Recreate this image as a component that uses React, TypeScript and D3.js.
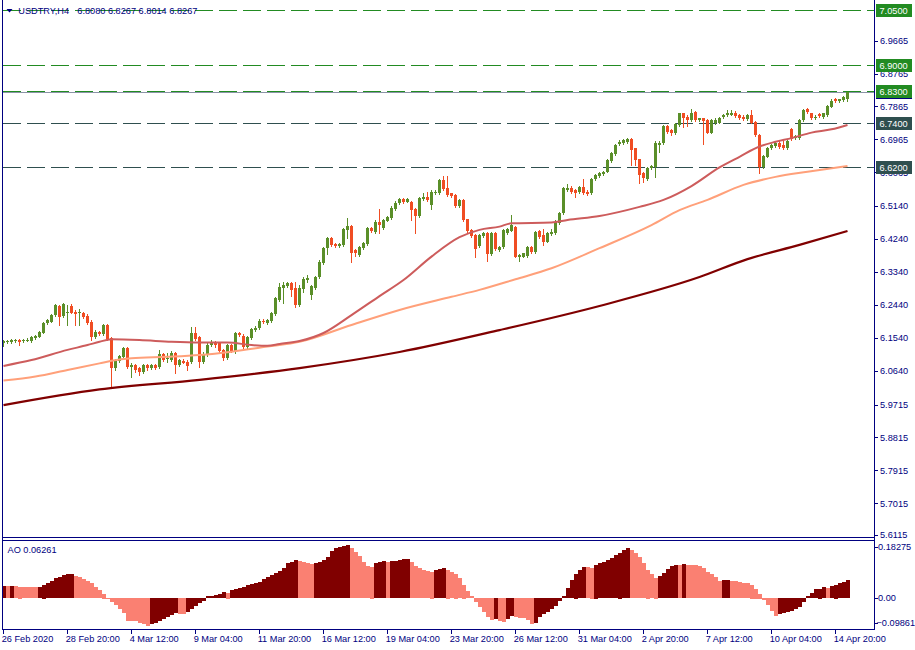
import React, { useRef, useEffect } from 'react';
import * as d3 from 'd3';

// H4 candles, [open, high, low, close]
const ohlc: [number, number, number, number][] = [
  [6.140, 6.148, 6.132, 6.145], [6.143, 6.149, 6.140, 6.145], [6.143, 6.152, 6.140, 6.148], [6.144, 6.151, 6.143, 6.148],
  [6.148, 6.151, 6.134, 6.142], [6.144, 6.151, 6.143, 6.148], [6.145, 6.154, 6.144, 6.149], [6.145, 6.160, 6.143, 6.157],
  [6.153, 6.162, 6.151, 6.159], [6.157, 6.173, 6.156, 6.170], [6.168, 6.197, 6.167, 6.195], [6.194, 6.205, 6.193, 6.203],
  [6.198, 6.219, 6.197, 6.216], [6.216, 6.246, 6.213, 6.243], [6.241, 6.243, 6.189, 6.211], [6.213, 6.249, 6.211, 6.246],
  [6.223, 6.243, 6.189, 6.224], [6.241, 6.246, 6.222, 6.223], [6.225, 6.230, 6.189, 6.219], [6.223, 6.233, 6.189, 6.224],
  [6.221, 6.225, 6.208, 6.211], [6.213, 6.218, 6.192, 6.195], [6.198, 6.203, 6.148, 6.157], [6.157, 6.175, 6.153, 6.170],
  [6.170, 6.173, 6.162, 6.164], [6.164, 6.192, 6.162, 6.189], [6.189, 6.192, 6.148, 6.150], [6.153, 6.156, 6.017, 6.071],
  [6.071, 6.096, 6.067, 6.093], [6.091, 6.107, 6.088, 6.104], [6.102, 6.129, 6.101, 6.125], [6.125, 6.129, 6.071, 6.075],
  [6.074, 6.085, 6.048, 6.080], [6.080, 6.082, 6.060, 6.066], [6.071, 6.074, 6.052, 6.061], [6.061, 6.082, 6.058, 6.080],
  [6.080, 6.082, 6.066, 6.071], [6.071, 6.082, 6.069, 6.080], [6.080, 6.082, 6.069, 6.072], [6.073, 6.121, 6.071, 6.110],
  [6.110, 6.112, 6.091, 6.093], [6.097, 6.112, 6.089, 6.098], [6.093, 6.118, 6.091, 6.113], [6.112, 6.115, 6.057, 6.080],
  [6.080, 6.096, 6.077, 6.093], [6.091, 6.095, 6.084, 6.086], [6.089, 6.092, 6.066, 6.077], [6.089, 6.184, 6.085, 6.168],
  [6.168, 6.184, 6.147, 6.150], [6.155, 6.159, 6.075, 6.089], [6.089, 6.115, 6.085, 6.110], [6.107, 6.140, 6.104, 6.134],
  [6.134, 6.147, 6.132, 6.143], [6.141, 6.144, 6.130, 6.133], [6.139, 6.143, 6.116, 6.119], [6.121, 6.123, 6.093, 6.098],
  [6.098, 6.137, 6.096, 6.134], [6.134, 6.137, 6.116, 6.119], [6.119, 6.170, 6.113, 6.166], [6.166, 6.170, 6.159, 6.162],
  [6.159, 6.163, 6.126, 6.130], [6.130, 6.159, 6.126, 6.155], [6.153, 6.181, 6.151, 6.177], [6.175, 6.185, 6.173, 6.182],
  [6.180, 6.205, 6.178, 6.201], [6.201, 6.204, 6.194, 6.197], [6.195, 6.205, 6.193, 6.203], [6.201, 6.225, 6.198, 6.221],
  [6.219, 6.266, 6.216, 6.262], [6.257, 6.303, 6.255, 6.294], [6.291, 6.307, 6.249, 6.298], [6.296, 6.307, 6.293, 6.305],
  [6.305, 6.307, 6.268, 6.285], [6.289, 6.307, 6.237, 6.244], [6.244, 6.298, 6.241, 6.291], [6.287, 6.321, 6.280, 6.315],
  [6.312, 6.326, 6.307, 6.318], [6.272, 6.298, 6.260, 6.296], [6.289, 6.324, 6.287, 6.321], [6.319, 6.367, 6.318, 6.362],
  [6.359, 6.402, 6.357, 6.400], [6.399, 6.430, 6.383, 6.427], [6.427, 6.430, 6.406, 6.409], [6.411, 6.413, 6.402, 6.405],
  [6.405, 6.413, 6.402, 6.411], [6.408, 6.454, 6.405, 6.452], [6.449, 6.481, 6.426, 6.460], [6.460, 6.462, 6.362, 6.387],
  [6.394, 6.397, 6.378, 6.386], [6.380, 6.405, 6.378, 6.402], [6.399, 6.417, 6.397, 6.414], [6.411, 6.457, 6.408, 6.453],
  [6.455, 6.458, 6.443, 6.447], [6.444, 6.475, 6.441, 6.471], [6.471, 6.506, 6.440, 6.462], [6.453, 6.479, 6.452, 6.476],
  [6.474, 6.488, 6.472, 6.485], [6.482, 6.513, 6.480, 6.510], [6.506, 6.527, 6.503, 6.523], [6.522, 6.536, 6.520, 6.533],
  [6.533, 6.536, 6.523, 6.525], [6.526, 6.535, 6.524, 6.533], [6.526, 6.529, 6.476, 6.503], [6.506, 6.509, 6.441, 6.487],
  [6.487, 6.540, 6.484, 6.537], [6.533, 6.549, 6.531, 6.540], [6.540, 6.554, 6.528, 6.531], [6.517, 6.557, 6.505, 6.554],
  [6.549, 6.557, 6.547, 6.554], [6.549, 6.588, 6.547, 6.585], [6.585, 6.596, 6.558, 6.560], [6.563, 6.596, 6.542, 6.544],
  [6.549, 6.551, 6.539, 6.542], [6.544, 6.547, 6.512, 6.514], [6.514, 6.534, 6.512, 6.531], [6.531, 6.534, 6.473, 6.476],
  [6.478, 6.480, 6.443, 6.446], [6.449, 6.451, 6.430, 6.432], [6.435, 6.438, 6.376, 6.396], [6.405, 6.438, 6.402, 6.435],
  [6.432, 6.442, 6.430, 6.440], [6.440, 6.442, 6.365, 6.383], [6.383, 6.442, 6.380, 6.440], [6.440, 6.442, 6.393, 6.396],
  [6.394, 6.406, 6.391, 6.403], [6.401, 6.451, 6.400, 6.449], [6.441, 6.453, 6.439, 6.451], [6.447, 6.490, 6.445, 6.462],
  [6.458, 6.460, 6.374, 6.376], [6.374, 6.383, 6.365, 6.380], [6.376, 6.387, 6.374, 6.385], [6.378, 6.404, 6.375, 6.401],
  [6.401, 6.404, 6.387, 6.389], [6.389, 6.447, 6.387, 6.444], [6.447, 6.449, 6.427, 6.430], [6.435, 6.451, 6.408, 6.417],
  [6.417, 6.442, 6.415, 6.440], [6.438, 6.451, 6.435, 6.444], [6.440, 6.475, 6.438, 6.471], [6.469, 6.499, 6.466, 6.496],
  [6.494, 6.566, 6.492, 6.563], [6.558, 6.574, 6.555, 6.563], [6.564, 6.568, 6.551, 6.554], [6.558, 6.561, 6.539, 6.549],
  [6.554, 6.569, 6.551, 6.566], [6.567, 6.588, 6.547, 6.549], [6.554, 6.557, 6.544, 6.547], [6.549, 6.591, 6.547, 6.587],
  [6.587, 6.602, 6.585, 6.599], [6.596, 6.606, 6.594, 6.604], [6.602, 6.611, 6.599, 6.608], [6.608, 6.643, 6.606, 6.640],
  [6.638, 6.662, 6.636, 6.658], [6.657, 6.684, 6.654, 6.681], [6.684, 6.694, 6.681, 6.690], [6.686, 6.698, 6.684, 6.695],
  [6.690, 6.700, 6.688, 6.697], [6.697, 6.699, 6.627, 6.667], [6.672, 6.674, 6.627, 6.640], [6.642, 6.644, 6.577, 6.599],
  [6.604, 6.606, 6.581, 6.590], [6.588, 6.620, 6.585, 6.618], [6.618, 6.627, 6.616, 6.624], [6.620, 6.691, 6.594, 6.688],
  [6.681, 6.691, 6.663, 6.688], [6.686, 6.736, 6.684, 6.733], [6.733, 6.736, 6.715, 6.718], [6.722, 6.725, 6.709, 6.713],
  [6.713, 6.740, 6.711, 6.738], [6.736, 6.770, 6.733, 6.768], [6.768, 6.770, 6.731, 6.754], [6.759, 6.762, 6.733, 6.750],
  [6.750, 6.780, 6.747, 6.768], [6.771, 6.773, 6.747, 6.750], [6.750, 6.756, 6.747, 6.754], [6.754, 6.756, 6.684, 6.748],
  [6.750, 6.752, 6.713, 6.715], [6.715, 6.752, 6.713, 6.750], [6.740, 6.755, 6.739, 6.750], [6.742, 6.759, 6.740, 6.756],
  [6.757, 6.766, 6.755, 6.763], [6.762, 6.777, 6.760, 6.768], [6.764, 6.778, 6.762, 6.770], [6.770, 6.773, 6.759, 6.761],
  [6.763, 6.766, 6.752, 6.755], [6.759, 6.762, 6.750, 6.751], [6.751, 6.766, 6.750, 6.763], [6.763, 6.777, 6.740, 6.742],
  [6.745, 6.748, 6.706, 6.708], [6.708, 6.711, 6.604, 6.620], [6.620, 6.654, 6.618, 6.651], [6.649, 6.677, 6.647, 6.674],
  [6.672, 6.684, 6.670, 6.681], [6.678, 6.691, 6.676, 6.688], [6.688, 6.691, 6.674, 6.677], [6.681, 6.695, 6.670, 6.672],
  [6.672, 6.698, 6.669, 6.692], [6.724, 6.728, 6.695, 6.697], [6.699, 6.708, 6.697, 6.706], [6.699, 6.752, 6.697, 6.750],
  [6.750, 6.780, 6.747, 6.777], [6.779, 6.782, 6.770, 6.772], [6.768, 6.770, 6.752, 6.754], [6.754, 6.762, 6.752, 6.759],
  [6.766, 6.769, 6.758, 6.761], [6.759, 6.770, 6.756, 6.768], [6.763, 6.791, 6.760, 6.788], [6.786, 6.806, 6.784, 6.802],
  [6.806, 6.810, 6.799, 6.801], [6.802, 6.808, 6.800, 6.806], [6.804, 6.814, 6.801, 6.812], [6.808, 6.8267, 6.8014, 6.8267],
];

// moving averages, [bar, price]
const maFast: [number, number][] = [
  [0, 6.077], [7, 6.093], [16, 6.121], [21, 6.134], [24, 6.143], [27, 6.150], [34, 6.148], [42, 6.143],
  [49, 6.141], [56, 6.141], [62, 6.134], [66, 6.132], [69, 6.137], [74, 6.145], [80, 6.167], [87, 6.216],
  [94, 6.268], [100, 6.312], [107, 6.376], [114, 6.429], [119, 6.449], [124, 6.458], [127, 6.467], [137, 6.469],
  [141, 6.476], [149, 6.487], [159, 6.512], [165, 6.531], [172, 6.569], [179, 6.620], [184, 6.649], [189, 6.677],
  [193, 6.690], [197, 6.700], [202, 6.715], [207, 6.724], [211, 6.736],
];
const maMid: [number, number][] = [
  [0, 6.037], [8, 6.048], [16, 6.066], [24, 6.084], [27, 6.091], [32, 6.098], [41, 6.102], [49, 6.107],
  [57, 6.116], [66, 6.130], [74, 6.143], [87, 6.189], [99, 6.230], [112, 6.266], [119, 6.285], [128, 6.314],
  [137, 6.344], [149, 6.399], [162, 6.462], [169, 6.503], [176, 6.531], [185, 6.572], [193, 6.594], [201, 6.608],
  [211, 6.624],
];
const maSlow: [number, number][] = [
  [0, 5.970], [24, 6.013], [49, 6.039], [74, 6.071], [99, 6.115], [124, 6.175], [149, 6.241], [174, 6.320],
  [186, 6.369], [199, 6.408], [211, 6.446],
];

// Awesome Oscillator
const aoValues = [
  0.0424, 0.042, 0.0425, 0.042, 0.041, 0.040, 0.0395, 0.039, 0.038, 0.040,
  0.048, 0.054, 0.061, 0.070, 0.075, 0.081, 0.085, 0.086, 0.078, 0.074,
  0.068, 0.061, 0.052, 0.040, 0.028, 0.016, 0.002, -0.013, -0.026, -0.038,
  -0.052, -0.080, -0.081, -0.082, -0.087, -0.092, -0.098, -0.092, -0.087, -0.080,
  -0.074, -0.068, -0.061, -0.054, -0.055, -0.057, -0.048, -0.040, -0.028, -0.016,
  -0.009, 0.007, 0.0075, 0.011, 0.015, 0.021, 0.020, 0.028, 0.033, 0.035,
  0.040, 0.045, 0.049, 0.054, 0.057, 0.067, 0.074, 0.082, 0.090, 0.097,
  0.106, 0.123, 0.128, 0.134, 0.131, 0.127, 0.124, 0.120, 0.123, 0.128,
  0.134, 0.146, 0.166, 0.176, 0.181, 0.185, 0.187, 0.176, 0.163, 0.148,
  0.128, 0.113, 0.112, 0.123, 0.127, 0.130, 0.129, 0.131, 0.132, 0.134,
  0.137, 0.138, 0.127, 0.114, 0.107, 0.099, 0.097, 0.094, 0.099, 0.104,
  0.106, 0.101, 0.093, 0.087, 0.072, 0.048, 0.026, 0.007, -0.013, -0.031,
  -0.048, -0.068, -0.078, -0.075, -0.080, -0.084, -0.075, -0.064, -0.068, -0.069,
  -0.072, -0.078, -0.091, -0.087, -0.068, -0.057, -0.048, -0.040, -0.028, -0.009,
  0.007, 0.037, 0.064, 0.087, 0.099, 0.110, 0.109, 0.108, 0.119, 0.124,
  0.127, 0.134, 0.143, 0.151, 0.161, 0.170, 0.176, 0.170, 0.160, 0.144,
  0.123, 0.101, 0.084, 0.073, 0.078, 0.090, 0.102, 0.113, 0.118, 0.117,
  0.120, 0.118, 0.117, 0.116, 0.113, 0.105, 0.093, 0.084, 0.075, 0.061,
  0.063, 0.064, 0.061, 0.060, 0.058, 0.053, 0.052, 0.048, 0.034, 0.016,
  -0.007, -0.026, -0.046, -0.064, -0.057, -0.054, -0.051, -0.045, -0.040, -0.031,
  -0.013, 0.008, 0.019, 0.031, 0.034, 0.038, 0.037, 0.042, 0.048, 0.052,
  0.057, 0.06261,
];

const priceTicks = [
  6.9665, 6.8765, 6.7865, 6.6965, 6.6065, 6.514, 6.424, 6.334, 6.244, 6.154, 6.064,
  5.9715, 5.8815, 5.7915, 5.7015, 5.6115,
];
const aoTicks = [0.18275, 0, -0.09861];
const greenLevels = [7.05, 6.9, 6.83];
const slateLevels = [6.74, 6.62];
const bidPrice = 6.8267;

const timeTicks: [number, string][] = [
  [0, '26 Feb 2020'], [16, '28 Feb 20:00'], [32, '4 Mar 12:00'], [48, '9 Mar 04:00'],
  [64, '11 Mar 20:00'], [80, '16 Mar 12:00'], [96, '19 Mar 04:00'], [112, '23 Mar 20:00'],
  [128, '26 Mar 12:00'], [144, '31 Mar 04:00'], [160, '2 Apr 20:00'], [176, '7 Apr 12:00'],
  [192, '10 Apr 04:00'], [208, '14 Apr 20:00'],
];

const W = 915;
const H = 650;
const AXIS = '#000080';
const BULL = '#5a8f29';
const BEAR = '#f04d23';
const GREEN = '#228b22';

const App = () => {
  const svgRef = useRef<SVGSVGElement | null>(null);

  useEffect(() => {
    const svg = d3.select(svgRef.current);
    svg.selectAll('*').remove();

    const x = d3.scaleLinear().domain([0, ohlc.length - 1]).range([3.5, 847.5]);
    const y = d3.scaleLinear().domain([5.6092, 7.0695]).range([537, 3]);
    const yAo = d3.scaleLinear().domain([-0.1089, 0.2057]).range([629, 540]);
    const fmt = d3.format('.4f');
    const crisp = (v: number) => Math.round(v) + 0.5;

    svg.append('rect').attr('width', W).attr('height', H).attr('fill', '#fff');

    // level lines
    const lv = svg.append('g').attr('shape-rendering', 'crispEdges');
    lv.append('line')
      .attr('x1', 3).attr('x2', 874)
      .attr('y1', crisp(y(bidPrice))).attr('y2', crisp(y(bidPrice)))
      .attr('stroke', '#8a94a6');
    lv.selectAll('.lvl-g')
      .data(greenLevels)
      .join('line')
      .attr('class', 'lvl-g')
      .attr('x1', 3).attr('x2', 874)
      .attr('y1', (d) => crisp(y(d))).attr('y2', (d) => crisp(y(d)))
      .attr('stroke', GREEN)
      .attr('stroke-dasharray', '18,6');
    lv.selectAll('.lvl-s')
      .data(slateLevels)
      .join('line')
      .attr('class', 'lvl-s')
      .attr('x1', 3).attr('x2', 874)
      .attr('y1', (d) => crisp(y(d))).attr('y2', (d) => crisp(y(d)))
      .attr('stroke', '#2f4f4f')
      .attr('stroke-dasharray', '18,6');

    // candles
    const cg = svg.append('g').attr('shape-rendering', 'crispEdges');
    cg.selectAll('.wick')
      .data(ohlc)
      .join('line')
      .attr('class', 'wick')
      .attr('x1', (d, i) => Math.floor(x(i)) + 0.5)
      .attr('x2', (d, i) => Math.floor(x(i)) + 0.5)
      .attr('y1', (d) => Math.round(y(d[1])))
      .attr('y2', (d) => Math.round(y(d[2])) + 1)
      .attr('stroke', (d) => (d[3] >= d[0] ? BULL : BEAR));
    cg.selectAll('.body')
      .data(ohlc)
      .join('rect')
      .attr('class', 'body')
      .attr('x', (d, i) => Math.floor(x(i)) - 1)
      .attr('width', 3)
      .attr('y', (d) => Math.round(y(Math.max(d[0], d[3]))))
      .attr('height', (d) =>
        Math.max(1, Math.round(y(Math.min(d[0], d[3]))) - Math.round(y(Math.max(d[0], d[3])))),
      )
      .attr('fill', (d) => (d[3] >= d[0] ? BULL : BEAR));

    // moving averages
    const maLine = d3
      .line<[number, number]>()
      .x((d) => x(d[0]))
      .y((d) => y(d[1]))
      .curve(d3.curveMonotoneX);
    const mas: [[number, number][], string, number][] = [
      [maSlow, '#800000', 2.2],
      [maMid, '#ffa07a', 2],
      [maFast, '#cd5c5c', 2],
    ];
    svg.append('g')
      .selectAll('path')
      .data(mas)
      .join('path')
      .attr('d', (d) => maLine(d[0]))
      .attr('fill', 'none')
      .attr('stroke', (d) => d[1])
      .attr('stroke-width', (d) => d[2]);

    // AO histogram
    svg.append('g')
      .attr('shape-rendering', 'crispEdges')
      .selectAll('rect')
      .data(aoValues)
      .join('rect')
      .attr('x', (d, i) => Math.floor(x(i)) - 1.5)
      .attr('width', 4)
      .attr('y', (d) => Math.round(Math.min(yAo(d), yAo(0))))
      .attr('height', (d) => Math.max(1, Math.round(Math.abs(yAo(d) - yAo(0)))))
      .attr('fill', (d, i) => (i === 0 || d > aoValues[i - 1] ? '#800000' : '#fa8072'));

    // frames
    const fr = svg.append('g').attr('stroke', AXIS).attr('fill', 'none').attr('shape-rendering', 'crispEdges');
    fr.append('line').attr('x1', 2.5).attr('x2', 2.5).attr('y1', 0).attr('y2', 630);
    fr.append('line').attr('x1', 874.5).attr('x2', 874.5).attr('y1', 0).attr('y2', 630);
    fr.append('line').attr('x1', 2).attr('x2', 875).attr('y1', 537.5).attr('y2', 537.5);
    fr.append('line').attr('x1', 2).attr('x2', 875).attr('y1', 540.5).attr('y2', 540.5);
    fr.append('line').attr('x1', 2).attr('x2', 875).attr('y1', 629.5).attr('y2', 629.5);

    const font = (sel: any) =>
      sel.attr('font-family', '"Liberation Sans", Arial, sans-serif').attr('font-size', 9.2).attr('fill', AXIS);

    // price axis
    const pa = svg.append('g');
    pa.selectAll('line')
      .data(priceTicks)
      .join('line')
      .attr('x1', 874).attr('x2', 878)
      .attr('y1', (d) => crisp(Math.min(y(d), 535))).attr('y2', (d) => crisp(Math.min(y(d), 535)))
      .attr('stroke', AXIS);
    font(
      pa.selectAll('text')
        .data(priceTicks)
        .join('text')
        .attr('x', 880)
        .attr('y', (d) => Math.min(y(d), 535) + 3.3)
        .text((d) => fmt(d)),
    );

    // level labels
    const boxes = [
      ...greenLevels.map((v) => [v, GREEN] as [number, string]),
      ...slateLevels.map((v) => [v, '#2f4f4f'] as [number, string]),
    ];
    svg.append('rect')
      .attr('x', 876).attr('width', 36)
      .attr('y', Math.round(y(bidPrice)) - 6).attr('height', 13)
      .attr('fill', AXIS);
    const bx = svg.append('g');
    bx.selectAll('rect')
      .data(boxes)
      .join('rect')
      .attr('x', 876).attr('width', 36)
      .attr('y', (d) => Math.round(y(d[0])) - 6).attr('height', 13)
      .attr('fill', (d) => d[1]);
    font(
      bx.selectAll('text')
        .data(boxes)
        .join('text')
        .attr('x', 879.5)
        .attr('y', (d) => Math.round(y(d[0])) + 3.8)
        .text((d) => fmt(d[0])),
    ).attr('fill', '#fff');

    // AO axis
    const aa = svg.append('g');
    const aoY = (d: number) => Math.max(547, Math.min(yAo(d), 622.5));
    aa.selectAll('line')
      .data(aoTicks)
      .join('line')
      .attr('x1', 874).attr('x2', 878)
      .attr('y1', (d) => crisp(aoY(d))).attr('y2', (d) => crisp(aoY(d)))
      .attr('stroke', AXIS);
    font(
      aa.selectAll('text')
        .data(aoTicks)
        .join('text')
        .attr('x', (d) => (d < 0 ? 876.5 : 878))
        .attr('y', (d) => aoY(d) + 3.3)
        .text((d) => (d === 0 ? '0.00' : d3.format('.5f')(d))),
    );

    // time axis
    const ta = svg.append('g');
    ta.selectAll('line')
      .data(timeTicks)
      .join('line')
      .attr('x1', (d) => Math.floor(x(d[0])) + 0.5)
      .attr('x2', (d) => Math.floor(x(d[0])) + 0.5)
      .attr('y1', 629).attr('y2', 634)
      .attr('stroke', AXIS);
    font(
      ta.selectAll('text')
        .data(timeTicks)
        .join('text')
        .attr('x', (d) => x(d[0]) - 1.8)
        .attr('y', 641.7)
        .text((d) => d[1]),
    );

    // titles
    const last = ohlc[ohlc.length - 1];
    svg.append('path').attr('d', 'M6.5,9 L12.5,9 L9.5,12.5 Z').attr('fill', AXIS);
    font(svg.append('text').attr('x', 18.3).attr('y', 14).text('USDTRY,H4'));
    font(svg.append('text').attr('x', 77.3).attr('y', 14).text(last.map((v) => fmt(v)).join(' ')));
    font(
      svg.append('text')
        .attr('x', 7.5)
        .attr('y', 552.7)
        .text(`AO ${aoValues[aoValues.length - 1].toFixed(5)}`),
    );
  }, []);

  return (
    <svg
      ref={svgRef}
      width={W}
      height={H}
      style={{ position: 'absolute', left: 0, top: 0, display: 'block' }}
    />
  );
};

export default App;
